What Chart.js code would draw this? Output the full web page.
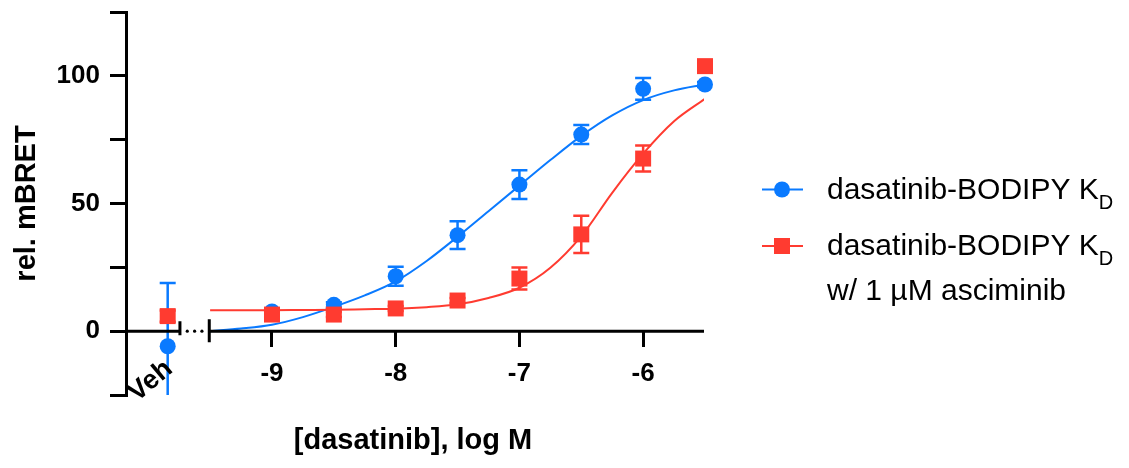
<!DOCTYPE html>
<html><head><meta charset="utf-8">
<script src="https://cdn.jsdelivr.net/npm/chart.js@4.4.1/dist/chart.umd.min.js"></script>
<style>html,body{margin:0;padding:0;background:#fff}</style>
</head><body>
<canvas id="c" width="1129" height="468"></canvas>
<script>
// ---- data ----
const doses = [-9, -8.5, -8, -7.5, -7, -6.5, -6, -5.5];
const xTicks = [-9, -8, -7, -6];
const yTicks = [-25, 0, 25, 50, 75, 100, 125];
const yTickLabels = ['', '0', '', '50', '', '100', ''];
const vehLabel = 'Veh';
const blueMean = [7.7, 10.3, 21.5, 37.6, 57.4, 77.0, 94.9, 96.6];
const blueSEM  = [1.0, 1.0, 3.7, 5.4, 5.6, 3.7, 4.3, 1.0];
const redMean  = [6.5, 6.5, 8.9, 12.0, 20.6, 37.9, 67.6, 103.8];
const redSEM   = [1.0, 1.0, 1.0, 1.0, 4.3, 7.3, 5.1, 1.0];
const blueVeh = [-5.9], blueVehSEM = [24.8];
const redVeh  = [5.9],  redVehSEM  = [2.2];
const fitX    = [-9.5, -9.25, -9, -8.75, -8.5, -8.25, -8, -7.75, -7.5, -7.25, -7, -6.75, -6.5, -6.25, -6, -5.75, -5.5];
const blueFit = [0, 1, 2.5, 5.5, 9.5, 14, 19.5, 27.5, 37, 47, 57, 67, 76.5, 84.5, 90.5, 94.3, 96.6];
const redFit  = [8.2, 8.2, 8.2, 8.3, 8.4, 8.6, 8.8, 9.4, 10.5, 13, 17, 24.8, 37.2, 54.2, 69.5, 82.2, 91];
const seriesNames = ['dasatinib-BODIPY K', 'dasatinib-BODIPY K'];
const seriesSub = ['D', 'D'];
const seriesExtra = ['', 'w/ 1 \u00B5M asciminib'];

// ---- layout constants ----
const X_MIN = -10.18, X_MAX = -5.508;
const VEH_X = -9.843;
const BREAK = [-9.744, -9.507];
const BLUE = '#0a7aff', RED = '#ff3b30';
const FONT = '"Liberation Sans", Arial, Helvetica, sans-serif';

const pts = (xs, ys) => xs.map((x, i) => ({x, y: ys[i]}));
const bluePts = [{x: VEH_X, y: blueVeh[0]}].concat(pts(doses, blueMean));
const redPts  = [{x: VEH_X, y: redVeh[0]}].concat(pts(doses, redMean));
const blueErr = blueVehSEM.concat(blueSEM);
const redErr  = redVehSEM.concat(redSEM);

const decor = {
  id: 'decor',
  beforeDatasetsDraw(chart) {
    const {ctx, chartArea: ca, scales: {x, y}} = chart;
    ctx.save();
    ctx.beginPath(); ctx.rect(ca.left, ca.top, ca.right - ca.left, ca.bottom - ca.top); ctx.clip();
    ctx.lineWidth = 2.5;
    [[bluePts, blueErr, BLUE], [redPts, redErr, RED]].forEach(([p, e, col]) => {
      ctx.strokeStyle = col;
      p.forEach((pt, i) => {
        const px = x.getPixelForValue(pt.x);
        const y1 = y.getPixelForValue(pt.y + e[i]);
        const y2 = y.getPixelForValue(pt.y - e[i]);
        ctx.beginPath();
        ctx.moveTo(px, y1); ctx.lineTo(px, y2);
        ctx.moveTo(px - 8, y1); ctx.lineTo(px + 8, y1);
        ctx.moveTo(px - 8, y2); ctx.lineTo(px + 8, y2);
        ctx.stroke();
      });
    });
    ctx.restore();
  },
  afterDraw(chart) {
    const {ctx, chartArea: ca, scales: {x, y}} = chart;
    const y0 = y.getPixelForValue(0);
    const xa = x.getPixelForValue(X_MIN), xb = x.getPixelForValue(BREAK[0]);
    const xc = x.getPixelForValue(BREAK[1]), xd = x.getPixelForValue(X_MAX);
    ctx.save();
    ctx.strokeStyle = '#000'; ctx.fillStyle = '#000'; ctx.lineWidth = 3;
    ctx.beginPath();
    ctx.moveTo(xa, y0); ctx.lineTo(xb, y0);
    ctx.moveTo(xb, y0 - 10); ctx.lineTo(xb, y0 + 4);
    ctx.moveTo(xc, y0); ctx.lineTo(xd, y0);
    ctx.moveTo(xc, y0 - 12); ctx.lineTo(xc, y0 + 11);
    ctx.stroke();
    for (let k = 1; k <= 3; k++) {
      const dx = xb + (xc - xb) * k / 4;
      ctx.beginPath(); ctx.arc(dx, y0, 1.6, 0, Math.PI * 2); ctx.fill();
    }
    // Veh label
    ctx.save();
    ctx.translate(x.getPixelForValue(VEH_X) - 17, 381);
    ctx.rotate(-40 * Math.PI / 180);
    ctx.font = 'bold 27px ' + FONT;
    ctx.textAlign = 'center'; ctx.textBaseline = 'middle';
    ctx.fillText(vehLabel, 0, 0);
    ctx.restore();
    // x title
    ctx.font = 'bold 29px ' + FONT;
    ctx.textAlign = 'center'; ctx.textBaseline = 'alphabetic';
    ctx.fillText('[dasatinib], log M', 413, 449);
    // legend
    const lx = 762, mx = 782, tx = 827;
    const rows = [[BLUE, 'circle', 189.5, 199.3], [RED, 'rect', 246, 255]];
    rows.forEach(([col, shape, my, by], i) => {
      ctx.strokeStyle = col; ctx.fillStyle = col; ctx.lineWidth = 2;
      ctx.beginPath(); ctx.moveTo(lx, my); ctx.lineTo(lx + 41, my); ctx.stroke();
      if (shape === 'circle') { ctx.beginPath(); ctx.arc(mx, my, 8, 0, Math.PI * 2); ctx.fill(); }
      else ctx.fillRect(mx - 8, my - 8, 16, 16);
      ctx.fillStyle = '#000'; ctx.textAlign = 'left'; ctx.textBaseline = 'alphabetic';
      ctx.font = '30px ' + FONT;
      ctx.fillText(seriesNames[i], tx, by);
      const w = ctx.measureText(seriesNames[i]).width;
      ctx.font = '20px ' + FONT;
      ctx.fillText(seriesSub[i], tx + w, by + 10);
      if (seriesExtra[i]) { ctx.font = '30px ' + FONT; ctx.fillText(seriesExtra[i], tx, by + 45); }
    });
    ctx.restore();
  }
};

new Chart(document.getElementById('c'), {
  type: 'scatter',
  data: {
    datasets: [
      {data: redPts, pointStyle: 'rect', pointRadius: 11.3, pointHoverRadius: 11.3, backgroundColor: RED, borderColor: RED, borderWidth: 0, showLine: false, clip: false, order: 0},
      {data: bluePts, pointStyle: 'circle', pointRadius: 8, pointHoverRadius: 8, backgroundColor: BLUE, borderColor: BLUE, borderWidth: 0, showLine: false, clip: false, order: 1},
      {data: pts(fitX, redFit), showLine: true, pointRadius: 0, borderColor: RED, borderWidth: 2, cubicInterpolationMode: 'monotone', order: 2},
      {data: pts(fitX, blueFit), showLine: true, pointRadius: 0, borderColor: BLUE, borderWidth: 2, cubicInterpolationMode: 'monotone', order: 3}
    ]
  },
  options: {
    responsive: false, animation: false, devicePixelRatio: 1,
    layout: {padding: {top: 12, right: 425, bottom: 73, left: 0}},
    plugins: {legend: {display: false}, tooltip: {enabled: false}},
    scales: {
      x: {
        type: 'linear', min: X_MIN, max: X_MAX, position: {y: 0},
        afterBuildTicks: s => { s.ticks = xTicks.map(v => ({value: v})); },
        afterFit: s => { s.paddingLeft = 0; s.paddingRight = 0; },
        ticks: {font: {family: FONT, size: 26, weight: 'bold'}, color: '#000', padding: 11, maxRotation: 0, autoSkip: false,
                callback: v => String(v)},
        grid: {display: true, drawOnChartArea: false, drawTicks: true, tickLength: 16, tickWidth: 3, tickColor: '#000', color: '#000', lineWidth: 3},
        border: {display: false}
      },
      y: {
        type: 'linear', min: -25, max: 125,
        afterBuildTicks: s => { s.ticks = yTicks.map(v => ({value: v})); },
        afterFit: s => { s.width = 126; s.paddingTop = 0; s.paddingBottom = 0; },
        ticks: {font: {family: FONT, size: 26, weight: 'bold'}, color: '#000', padding: 10, autoSkip: false,
                callback: (v) => yTickLabels[yTicks.indexOf(v)] ?? ''},
        grid: {display: true, drawOnChartArea: false, drawTicks: true, tickLength: 16, tickWidth: 3, tickColor: '#000', color: '#000', lineWidth: 3},
        border: {display: true, color: '#000', width: 3},
        title: {display: true, text: 'rel. mBRET', font: {family: FONT, size: 29, weight: 'bold'}, color: '#000', padding: {top: 10, bottom: 0}}
      }
    }
  },
  plugins: [decor]
});
</script>
</body></html>
